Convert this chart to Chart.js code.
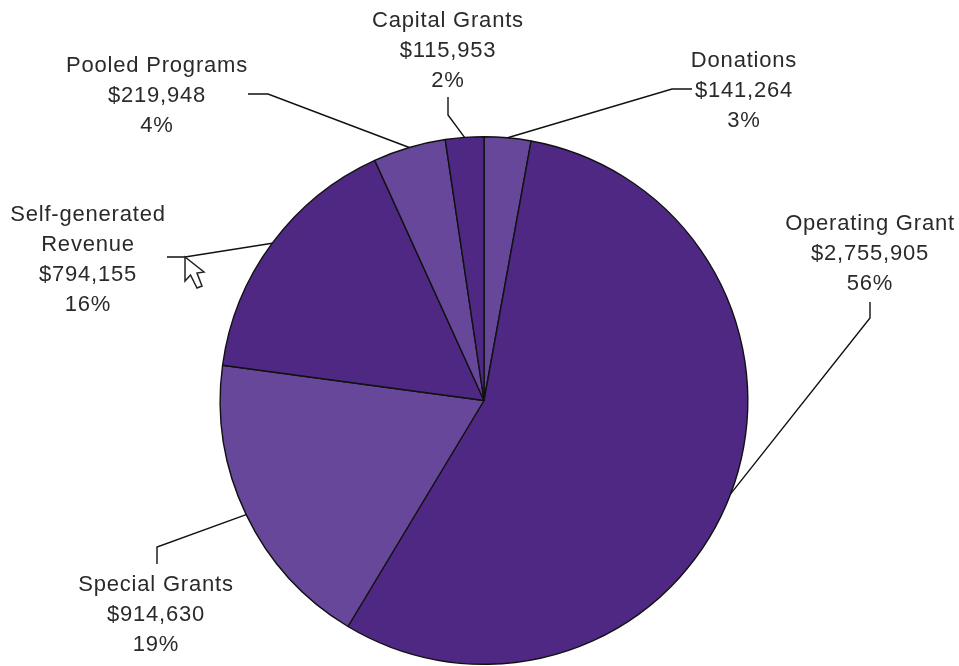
<!DOCTYPE html>
<html>
<head>
<meta charset="utf-8">
<title>Revenue by source</title>
<script src="https://cdn.jsdelivr.net/npm/chart.js@4"></script>
<style>
    html, body { margin: 0; padding: 0; background: #fff; overflow: hidden; }
    canvas { display: block; }
</style>
</head>
<body>
<canvas id="myChart" width="959" height="666"></canvas>
<script>
// clockwise from 12 o'clock
var categories = ['Donations', 'Operating Grant', 'Special Grants', 'Self-generated Revenue', 'Pooled Programs', 'Capital Grants']
var amounts = [141264, 2755905, 914630, 794155, 219948, 115953]
var amountLabels = ['$141,264', '$2,755,905', '$914,630', '$794,155', '$219,948', '$115,953']
var percentLabels = ['3%', '56%', '19%', '16%', '4%', '2%']

var DARK = '#4f2884'
var LIGHT = '#67479a'
var sliceColors = [LIGHT, DARK, LIGHT, DARK, LIGHT, DARK]

// where each label sits: centre x, first baseline y, lines
var labelBoxes = [
    { x: 744, y: 67, lines: ['Donations'] },
    { x: 870, y: 230, lines: ['Operating Grant'] },
    { x: 156, y: 591, lines: ['Special Grants'] },
    { x: 88, y: 221, lines: ['Self-generated', 'Revenue'] },
    { x: 157, y: 72, lines: ['Pooled Programs'] },
    { x: 448, y: 27, lines: ['Capital Grants'] }
]

// leader line bends, going from the slice edge out to the label
var leaderBends = [
    [[672, 89], [692, 89]],
    [[870, 318], [870, 302]],
    [[157, 547], [157, 564]],
    [[185, 257], [167, 257]],
    [[268, 94], [248, 94]],
    [[448, 115], [448, 97]]
]

var LINE_HEIGHT = 30

var pieLabels = {
    id: 'pieLabels',
    afterDraw(chart) {
        var ctx = chart.ctx
        var arcs = chart.getDatasetMeta(0).data

        ctx.save()
        ctx.strokeStyle = '#111'
        ctx.lineWidth = 1.4
        arcs.forEach((arc, i) => {
            var mid = (arc.startAngle + arc.endAngle) / 2
            ctx.beginPath()
            ctx.moveTo(arc.x + Math.cos(mid) * arc.outerRadius, arc.y + Math.sin(mid) * arc.outerRadius)
            leaderBends[i].forEach(p => ctx.lineTo(p[0], p[1]))
            ctx.stroke()
        })

        ctx.fillStyle = '#2a2a2a'
        ctx.font = '22px "Liberation Sans", Arial, sans-serif'
        ctx.letterSpacing = '0.8px'
        ctx.textAlign = 'center'
        ctx.textBaseline = 'alphabetic'
        labelBoxes.forEach((box, i) => {
            var lines = box.lines.concat([amountLabels[i], percentLabels[i]])
            lines.forEach((txt, n) => ctx.fillText(txt, box.x, box.y + n * LINE_HEIGHT))
        })

        // mouse pointer caught in the screenshot
        var cursor = [[185, 257], [185, 281], [190.5, 275], [197, 288], [202, 286], [197, 273], [204, 272]]
        ctx.beginPath()
        cursor.forEach((p, i) => i ? ctx.lineTo(p[0], p[1]) : ctx.moveTo(p[0], p[1]))
        ctx.closePath()
        ctx.fillStyle = '#fff'
        ctx.fill()
        ctx.strokeStyle = '#222'
        ctx.lineWidth = 1.5
        ctx.stroke()
        ctx.restore()
    }
}

var ctx = document.getElementById('myChart').getContext('2d')
var myChart = new Chart(ctx, {
    type: 'pie',
    data: {
        labels: categories,
        datasets: [{
            data: amounts,
            backgroundColor: sliceColors,
            borderColor: '#111',
            borderWidth: 1.4
        }]
    },
    options: {
        responsive: false,
        animation: false,
        layout: { padding: { left: 219, right: 210, top: 136, bottom: 1 } },
        plugins: {
            legend: { display: false },
            tooltip: { enabled: false }
        }
    },
    plugins: [pieLabels]
})
</script>
</body>
</html>
